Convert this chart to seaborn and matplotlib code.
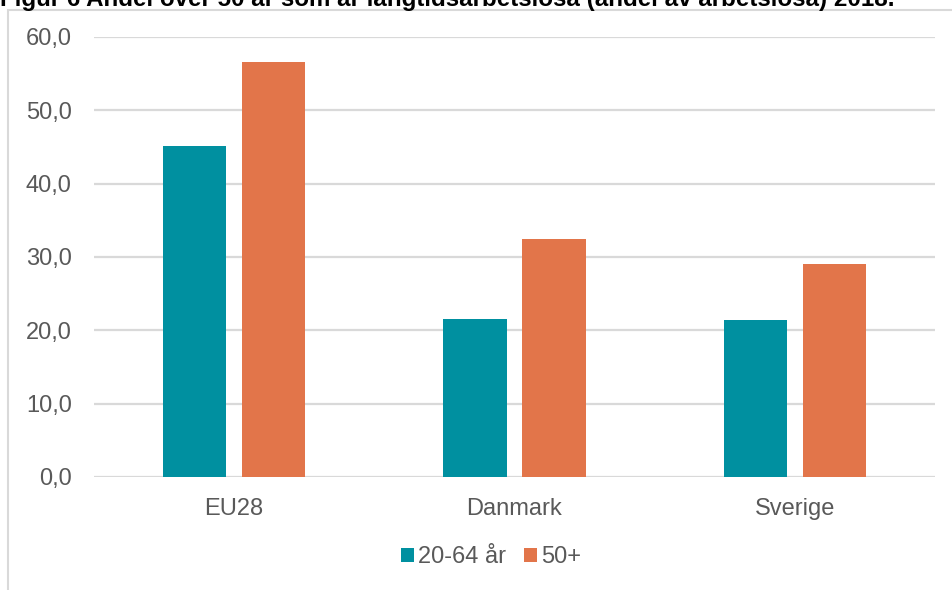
import matplotlib
matplotlib.use("Agg")
import matplotlib.pyplot as plt
from matplotlib.patches import Rectangle
import seaborn as sns
import pandas as pd

# Share of the unemployed who are long-term unemployed, 2018
categories = ["EU28", "Danmark", "Sverige"]
series_names = ["20-64 år", "50+"]
values_20_64 = [45.1, 21.6, 21.4]
values_50plus = [56.6, 32.4, 29.1]
y_ticks = [0, 10, 20, 30, 40, 50, 60]
title = "Figur 6 Andel över 50 år som är långtidsarbetslösa (andel av arbetslösa) 2018."

df = pd.DataFrame({
    "land": categories * 2,
    "grupp": [series_names[0]] * 3 + [series_names[1]] * 3,
    "andel": values_20_64 + values_50plus,
})

sns.set_theme(style="white")
plt.rcParams["font.family"] = ["Liberation Sans", "DejaVu Sans"]

W, H = 953, 590
fig = plt.figure(figsize=(W / 100, H / 100), dpi=100)
ax = fig.add_axes([94 / W, 1 - 477 / H, (935 - 94) / W, (477 - 37) / H])

palette = {series_names[0]: "#0090A0", series_names[1]: "#E2754A"}
sns.barplot(data=df, x="land", y="andel", hue="grupp", order=categories,
            hue_order=series_names, palette=palette, width=0.563, gap=0.2,
            saturation=1, ax=ax, legend=True, linewidth=0, zorder=3)

ax.set_ylim(0, 60)
ax.set_xlim(-0.5, len(categories) - 0.5)
ax.set_yticks(y_ticks)
ax.set_yticklabels([f"{v:.1f}".replace(".", ",") for v in y_ticks])
ax.set_xlabel("")
ax.set_ylabel("")
grid_col = "#D9D9D9"
for v in y_ticks:
    ax.axhline(v, color=grid_col, lw=1.6, zorder=1)
for s in ax.spines.values():
    s.set_visible(False)
ax.tick_params(axis="y", length=0, pad=16, labelsize=17, labelcolor="#595959")
ax.tick_params(axis="x", length=0, pad=15, labelsize=17, labelcolor="#595959")

handles, labels = ax.get_legend_handles_labels()
ax.legend(handles, labels, loc="center", bbox_to_anchor=(491 / W, 1 - 557 / H),
          bbox_transform=fig.transFigure, ncol=2, frameon=False,
          fontsize=17, labelcolor="#595959", handlelength=0.55, handleheight=0.55,
          handletextpad=0.17, columnspacing=0.76, borderpad=0)

# chart frame
fig.patches.append(Rectangle((8.5 / W, -0.1), 1.2, 1 - 9.5 / H + 0.1,
                             transform=fig.transFigure, fill=False,
                             edgecolor=grid_col, lw=1.5))

# heading sits above the frame and runs off the top edge
fig.text(0, 1 - 6 / H, title, fontsize=17.4, fontweight="bold", color="black",
         ha="left", va="baseline")

fig.savefig("out.png", dpi=100)
